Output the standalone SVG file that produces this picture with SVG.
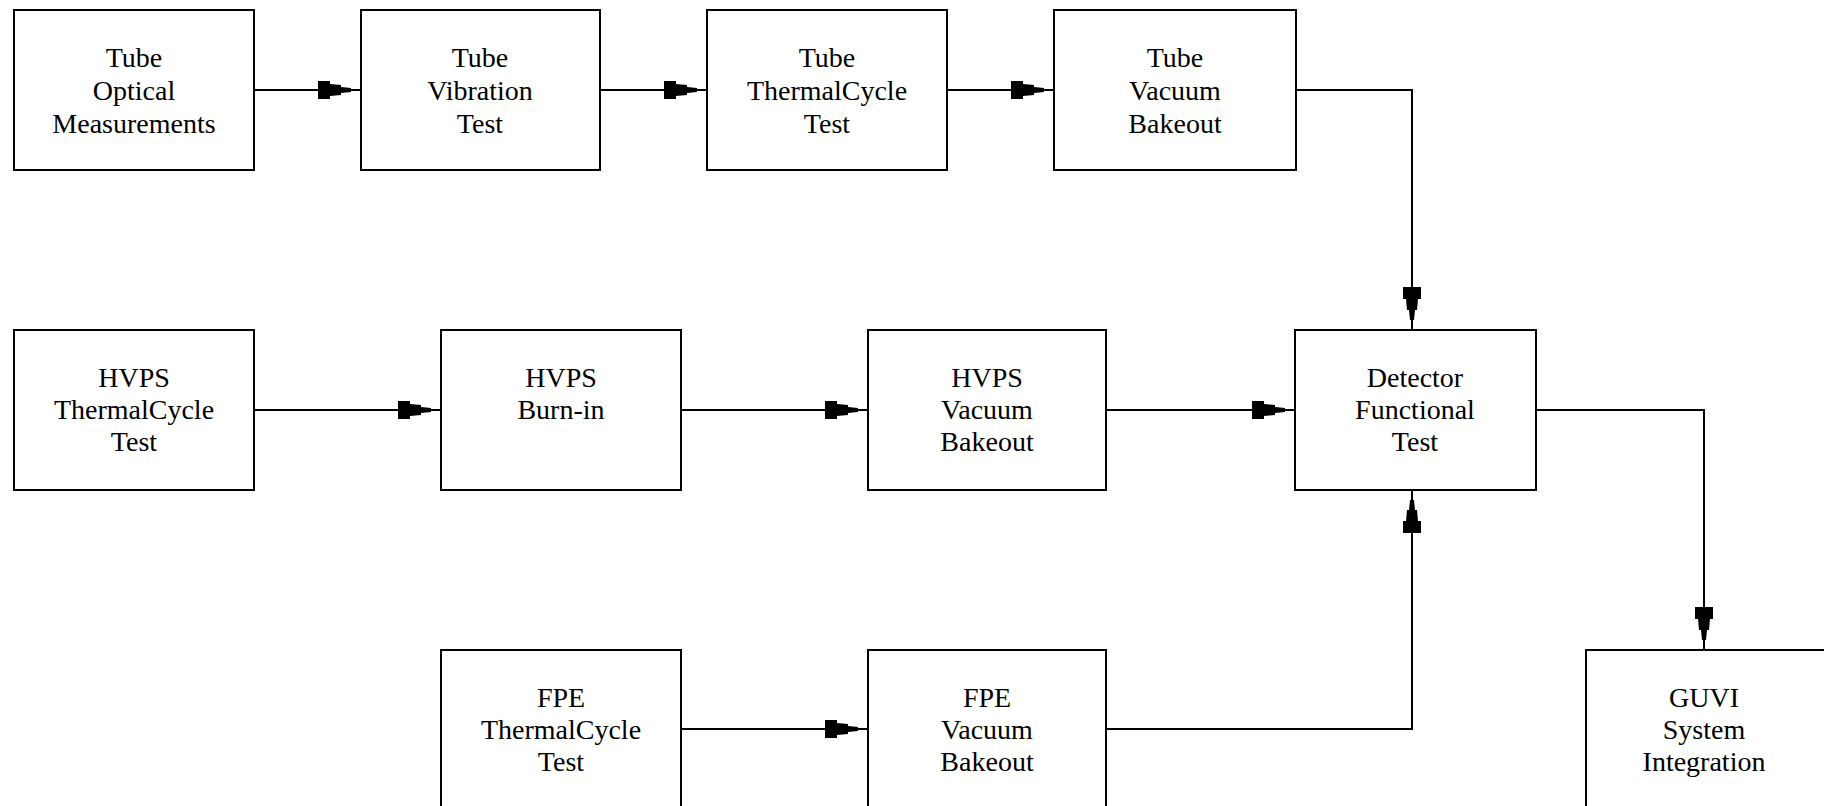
<svg xmlns="http://www.w3.org/2000/svg" width="1824" height="806" viewBox="0 0 1824 806">
<style>
.box{fill:#fff;stroke:#000;stroke-width:2}
.lbl{font-family:"Liberation Serif","Times New Roman",serif;font-size:28px;fill:#000;text-anchor:middle}
.con{fill:none;stroke:#000;stroke-width:2;marker-end:url(#ah)}
</style>
<defs>
<marker id="ah" markerUnits="userSpaceOnUse" viewBox="-44 -10 46 20" refX="0" refY="0" markerWidth="46" markerHeight="20" orient="auto" overflow="visible">
<path d="M-42,-9 L-30,-9 L-30,-6 L-19,-5 L-19,-3 L-9,-2 L-9,2 L-19,3 L-19,5 L-30,6 L-30,9 L-42,9 Z" fill="#000"/>
</marker>
</defs>
<rect width="1824" height="806" fill="#fff"/>
<g id="connectors">
<path class="con" d="M254,90 H360"/>
<path class="con" d="M600,90 H706"/>
<path class="con" d="M947,90 H1053"/>
<path class="con" d="M1296,90 H1412 V329"/>
<path class="con" d="M254,410 H440"/>
<path class="con" d="M681,410 H867"/>
<path class="con" d="M1106,410 H1294"/>
<path class="con" d="M1536,410 H1704 V649"/>
<path class="con" d="M681,729 H867"/>
<path class="con" d="M1106,729 H1412 V491"/>
</g>
<g id="tube-optical"><rect class="box" x="14" y="10" width="240" height="160"/>
<text class="lbl"><tspan x="134" y="67">Tube</tspan><tspan x="134" y="100">Optical</tspan><tspan x="134" y="133">Measurements</tspan></text></g>
<g id="tube-vibration"><rect class="box" x="361" y="10" width="239" height="160"/>
<text class="lbl"><tspan x="480" y="67">Tube</tspan><tspan x="480" y="100">Vibration</tspan><tspan x="480" y="133">Test</tspan></text></g>
<g id="tube-thermal"><rect class="box" x="707" y="10" width="240" height="160"/>
<text class="lbl"><tspan x="827" y="67">Tube</tspan><tspan x="827" y="100">ThermalCycle</tspan><tspan x="827" y="133">Test</tspan></text></g>
<g id="tube-vacuum"><rect class="box" x="1054" y="10" width="242" height="160"/>
<text class="lbl"><tspan x="1175" y="67">Tube</tspan><tspan x="1175" y="100">Vacuum</tspan><tspan x="1175" y="133">Bakeout</tspan></text></g>
<g id="hvps-thermal"><rect class="box" x="14" y="330" width="240" height="160"/>
<text class="lbl"><tspan x="134" y="387">HVPS</tspan><tspan x="134" y="419">ThermalCycle</tspan><tspan x="134" y="451">Test</tspan></text></g>
<g id="hvps-burnin"><rect class="box" x="441" y="330" width="240" height="160"/>
<text class="lbl"><tspan x="561" y="387">HVPS</tspan><tspan x="561" y="419">Burn-in</tspan></text></g>
<g id="hvps-vacuum"><rect class="box" x="868" y="330" width="238" height="160"/>
<text class="lbl"><tspan x="987" y="387">HVPS</tspan><tspan x="987" y="419">Vacuum</tspan><tspan x="987" y="451">Bakeout</tspan></text></g>
<g id="detector"><rect class="box" x="1295" y="330" width="241" height="160"/>
<text class="lbl"><tspan x="1415" y="387">Detector</tspan><tspan x="1415" y="419">Functional</tspan><tspan x="1415" y="451">Test</tspan></text></g>
<g id="fpe-thermal"><rect class="box" x="441" y="650" width="240" height="170"/>
<text class="lbl"><tspan x="561" y="707">FPE</tspan><tspan x="561" y="739">ThermalCycle</tspan><tspan x="561" y="771">Test</tspan></text></g>
<g id="fpe-vacuum"><rect class="box" x="868" y="650" width="238" height="170"/>
<text class="lbl"><tspan x="987" y="707">FPE</tspan><tspan x="987" y="739">Vacuum</tspan><tspan x="987" y="771">Bakeout</tspan></text></g>
<g id="guvi"><rect class="box" x="1586" y="650" width="240" height="170"/>
<text class="lbl"><tspan x="1704" y="707">GUVI</tspan><tspan x="1704" y="739">System</tspan><tspan x="1704" y="771">Integration</tspan></text></g>
</svg>
